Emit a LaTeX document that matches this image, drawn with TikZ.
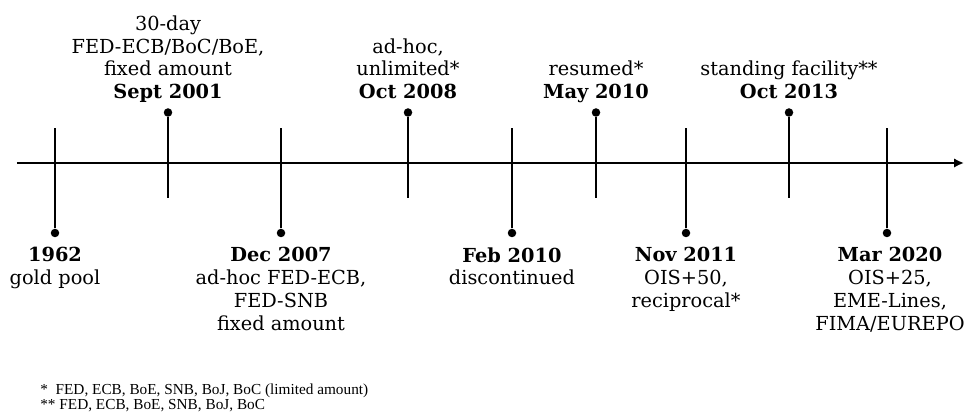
\documentclass[tikz,border=0pt]{standalone}
\usepackage{fontspec}
\setmainfont{DejaVu Serif}
\newfontfamily\notefont{Liberation Serif}
\usetikzlibrary{arrows.meta, positioning}
\tikzset{
   evdot/.style={circle, fill=black, inner sep=0pt, minimum size=0.17cm},
   evtick/.style={line width=1.15pt},
   evlabel/.style={align=center, inner sep=0pt, font=\fontsize{11}{13}\selectfont,
      execute at begin node=\strut, execute at end node=\strut},
}

\begin{document}
\begin{tikzpicture}
   \useasboundingbox (0,-5.0) rectangle (19.3,3.26);
   % Time axis
   \coordinate (ax0) at (0.34,0);
   \coordinate (ax1) at (19.28,0);
   \draw[line width=1.2pt, -{Latex[length=0.2cm, width=0.19cm]}] (ax0) -- (ax1);
   % 1962 (below)
   \node[evdot] (gp62) at (1.10,-1.40) {};
   \coordinate (gp62t) at (1.10,0.70);
   \draw[evtick] (gp62) -- (gp62t);
   \node[evlabel, below=0.19cm of gp62] (gp62l) {\textbf{1962}\\gold pool};
   % Sept 2001 (above)
   \node[evdot] (sep01) at (3.36,1.01) {};
   \coordinate (sep01b) at (3.36,-0.70);
   \draw[evtick] (sep01) -- (sep01b);
   \node[evlabel, above=0.04cm of sep01] (sep01l)
      {30-day\\FED-ECB/BoC/BoE,\\fixed amount\\\textbf{Sept 2001}};
   % Dec 2007 (below)
   \node[evdot] (dec07) at (5.62,-1.40) {};
   \coordinate (dec07t) at (5.62,0.70);
   \draw[evtick] (dec07) -- (dec07t);
   \node[evlabel, below=0.19cm of dec07] (dec07l)
      {\textbf{Dec 2007}\\ad-hoc FED-ECB,\\FED-SNB\\fixed amount};
   % Oct 2008 (above)
   \node[evdot] (oct08) at (8.16,1.01) {};
   \coordinate (oct08b) at (8.16,-0.70);
   \draw[evtick] (oct08) -- (oct08b);
   \node[evlabel, above=0.04cm of oct08] (oct08l) {ad-hoc,\\unlimited*\\\textbf{Oct 2008}};
   % Feb 2010 (below)
   \node[evdot] (feb10) at (10.24,-1.40) {};
   \coordinate (feb10t) at (10.24,0.70);
   \draw[evtick] (feb10) -- (feb10t);
   \node[evlabel, below=0.19cm of feb10] (feb10l) {\textbf{Feb 2010}\\discontinued};
   % May 2010 (above)
   \node[evdot] (may10) at (11.92,1.01) {};
   \coordinate (may10b) at (11.92,-0.70);
   \draw[evtick] (may10) -- (may10b);
   \node[evlabel, above=0.04cm of may10] (may10l) {resumed*\\\textbf{May 2010}};
   % Nov 2011 (below)
   \node[evdot] (nov11) at (13.72,-1.40) {};
   \coordinate (nov11t) at (13.72,0.70);
   \draw[evtick] (nov11) -- (nov11t);
   \node[evlabel, below=0.19cm of nov11] (nov11l) {\textbf{Nov 2011}\\OIS+50,\\reciprocal*};
   % Oct 2013 (above)
   \node[evdot] (oct13) at (15.78,1.01) {};
   \coordinate (oct13b) at (15.78,-0.70);
   \draw[evtick] (oct13) -- (oct13b);
   \node[evlabel, above=0.04cm of oct13] (oct13l) {standing facility**\\\textbf{Oct 2013}};
   % Mar 2020 (below)
   \node[evdot] (mar20) at (17.74,-1.40) {};
   \coordinate (mar20t) at (17.74,0.70);
   \draw[evtick] (mar20) -- (mar20t);
   \node[evlabel, below=0.19cm of mar20, xshift=0.06cm] (mar20l)
      {\textbf{Mar 2020}\\OIS+25,\\EME-Lines,\\FIMA/EUREPO};
   % Footnotes
   \node[anchor=south west, align=left, inner sep=0pt,
      font=\notefont\fontsize{8.7}{7.6}\selectfont] (notes) at (0.8,-4.99)
      {*~ FED, ECB, BoE, SNB, BoJ, BoC (limited amount)\\** FED, ECB, BoE, SNB, BoJ, BoC};
\end{tikzpicture}
\end{document}
